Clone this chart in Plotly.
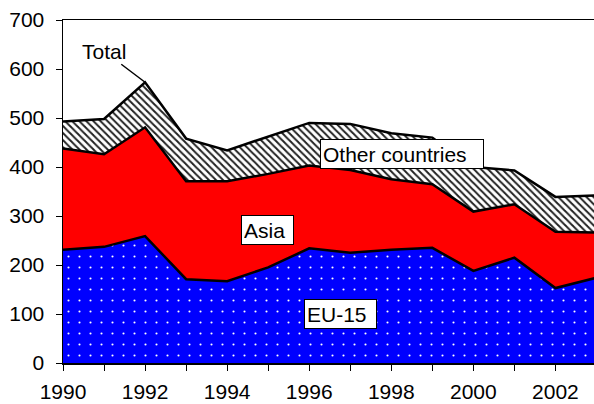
import plotly.graph_objects as go

years = list(range(1990, 2004))
eu15 = [231, 237, 259, 171, 167, 195, 234, 225, 231, 235, 188, 215, 153, 174]
asia = [207, 189, 222, 200, 204, 191, 169, 169, 144, 130, 121, 109, 115, 92]
other = [55, 72, 92, 87, 63, 76, 87, 94, 94, 95, 91, 69, 71, 76]
total = [e + a + o for e, a, o in zip(eu15, asia, other)]

FONT = "Liberation Sans, Arial, sans-serif"
FS = 21

fig = go.Figure()
fig.add_trace(go.Scatter(
    x=years, y=eu15, name="EU-15", stackgroup="s", mode="lines",
    line=dict(color="black", width=2.5),
    fillcolor="#0000FF",
    fillpattern=dict(shape=".", bgcolor="#0000FF", fgcolor="white",
                     size=11, solidity=0.03, fillmode="replace"),
))
fig.add_trace(go.Scatter(
    x=years, y=asia, name="Asia", stackgroup="s", mode="lines",
    line=dict(color="black", width=2.5),
    fillcolor="#FF0000",
))
fig.add_trace(go.Scatter(
    x=years, y=other, name="Other countries", stackgroup="s", mode="lines",
    line=dict(color="black", width=2.5),
    fillpattern=dict(shape="\\", bgcolor="white", fgcolor="#222222",
                     size=5, solidity=0.4, fillmode="replace"),
))

box = dict(showarrow=False, xref="x", yref="y", xanchor="left", yanchor="top",
           bgcolor="white", bordercolor="black", borderwidth=1, borderpad=2,
           align="left", font=dict(family=FONT, size=FS, color="black"))
fig.add_annotation(text="Other countries", x=1996.26, y=457, width=158, height=24, **box)
fig.add_annotation(text="Asia", x=1994.33, y=302, width=47, height=24, **box)
fig.add_annotation(text="EU-15", x=1995.87, y=130, width=67, height=24, **box)

fig.add_annotation(text="Total", x=years[2], y=total[2], xref="x", yref="y",
                   showarrow=True, arrowhead=0, arrowwidth=1.5, arrowcolor="black",
                   ax=-41, ay=-31, font=dict(family=FONT, size=FS, color="black"))

fig.update_layout(
    width=594, height=404,
    margin=dict(l=63, r=0, t=20, b=41, autoexpand=False),
    plot_bgcolor="white", paper_bgcolor="white",
    showlegend=False,
    font=dict(family=FONT, size=FS, color="black"),
)
fig.update_xaxes(
    range=[1990, 2002.94], tick0=1990, dtick=2, ticks="outside", ticklen=6,
    tickcolor="black", showline=True, linecolor="black", linewidth=1.5,
    mirror=True, showgrid=False, zeroline=False, automargin=False,
    minor=dict(dtick=1, ticks="outside", ticklen=6, tickcolor="black"),
    ticklabelstandoff=3,
)
fig.update_yaxes(
    range=[0, 700], dtick=100, ticks="outside", ticklen=6, tickcolor="black",
    showline=True, linecolor="black", linewidth=1.5, mirror=True,
    showgrid=False, zeroline=False, ticklabelstandoff=7, automargin=False,
)

fig.write_html(
    "out.html",
    config={"displayModeBar": False, "staticPlot": True},
    post_script="document.body.style.margin='0';document.body.style.overflow='hidden';",
)
